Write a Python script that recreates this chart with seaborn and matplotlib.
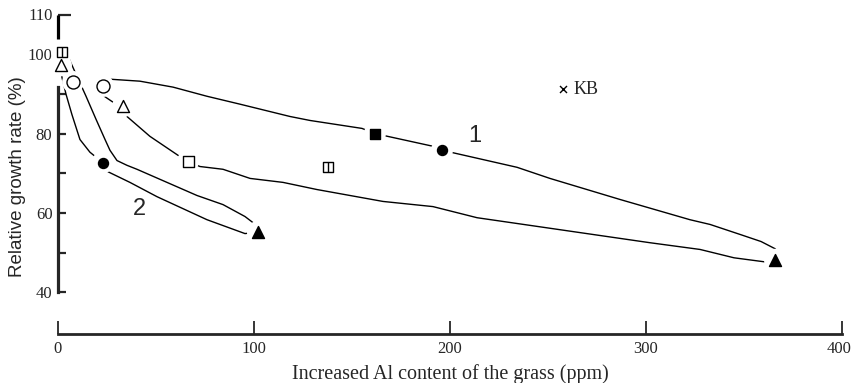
import matplotlib
matplotlib.use("Agg")
import matplotlib.pyplot as plt
import matplotlib.transforms as mtransforms
import numpy as np
import pandas as pd
import seaborn as sns

# ---------------- data ----------------
# Curve 1 (closed hand-drawn envelope)
curve1_x = [23.0, 26.5, 41.8, 58.7, 76.0, 92.9, 118.4, 128.6, 155.1, 161.7, 191.3, 195.9,
            234.2, 251.0, 286.7, 322.4, 332.7, 348.5, 358.7, 365.8, 368.4, 365.8,
            360.2, 344.9, 327.6, 302.0, 213.8, 191.3, 165.8, 132.1, 114.8, 98.0, 84.2,
            72.4, 66.3, 62.2, 46.9, 35.2, 33.2, 28.1, 23.0, 23.0]
curve1_y = [92.0, 93.7, 93.2, 91.7, 89.4, 87.4, 84.3, 83.3, 81.3, 80.0, 76.8, 75.8,
            71.5, 68.7, 63.4, 58.3, 57.1, 54.5, 52.8, 51.0, 49.5, 48.2,
            47.7, 48.7, 50.8, 52.5, 58.8, 61.6, 62.9, 65.9, 67.7, 68.7, 71.0,
            71.7, 73.0, 74.2, 79.3, 84.3, 86.9, 87.9, 89.6, 92.0]

# Curve 2 (closed hand-drawn envelope)
curve2_x = [2.0, 4.6, 9.7, 14.3, 19.4, 24.0, 26.5, 30.1, 35.2, 40.3, 55.6, 70.9, 84.2,
            95.4, 101.5, 102.0, 95.4, 76.0, 50.5, 36.7, 25.0, 22.8, 16.3, 11.2,
            7.1, 4.1, 2.0, 1.5, -1.5, 2.0]
curve2_y = [100.5, 100.0, 94.4, 89.4, 83.6, 78.5, 75.8, 73.2, 72.0, 71.0, 67.7, 64.4, 62.1,
            59.1, 56.8, 55.2, 54.8, 58.3, 64.1, 67.7, 70.5, 72.7, 75.3, 78.5,
            84.8, 89.9, 94.2, 97.2, 98.7, 100.5]

open_circle_x = [7.7, 23.0]
open_circle_y = [93.0, 92.0]
open_triangle_x = [1.5, 33.2]
open_triangle_y = [97.2, 86.9]
open_square_x = [66.3]
open_square_y = [73.0]
split_square_x = [2.0, 137.8]
split_square_y = [100.5, 71.7]
filled_circle_x = [22.8, 195.9]
filled_circle_y = [72.7, 75.8]
filled_square_x = [161.7]
filled_square_y = [80.0]
filled_triangle_x = [102.0, 365.8]
filled_triangle_y = [55.2, 48.2]
kb_x = [257.9]
kb_y = [91.2]

curve_labels = ["1", "2"]
curve_label_x = [212.8, 41.3]
curve_label_y = [79.3, 60.9]

x_ticks = [0, 100, 200, 300, 400]
y_major = [40, 60, 80, 100, 110]
y_minor = [50, 70, 90]

# ---------------- style ----------------
sns.set_style("white")
plt.rcParams["font.family"] = ["Liberation Serif", "DejaVu Serif"]
SANS = ["Liberation Sans", "DejaVu Sans"]

W, H, DPI = 852, 383, 100
fig = plt.figure(figsize=(W / DPI, H / DPI), dpi=DPI)
ax = fig.add_axes([58 / W, 1 - 334 / H, 784 / W, (334 - 14.5) / H])
ax.set_xlim(0, 400)
ax.set_ylim(29.5, 110)

def px2s(d):
    return (d * 72 / DPI) ** 2

LW = 1.0
c1 = pd.DataFrame({"x": curve1_x, "y": curve1_y})
c2 = pd.DataFrame({"x": curve2_x, "y": curve2_y})
sns.lineplot(data=c1, x="x", y="y", sort=False, estimator=None, color="black", lw=LW, ax=ax)
sns.lineplot(data=c2, x="x", y="y", sort=False, estimator=None, color="black", lw=LW, ax=ax)
for ln in ax.lines:
    ln.set_clip_on(False)
    ln.set_zorder(2)

# white halos to break the lines around the markers
halo_x = open_circle_x + open_triangle_x + open_square_x + split_square_x + \
    filled_circle_x + filled_square_x + filled_triangle_x
halo_y = open_circle_y + open_triangle_y + open_square_y + split_square_y + \
    filled_circle_y + filled_square_y + filled_triangle_y
sns.scatterplot(x=halo_x, y=halo_y, s=px2s(22), color="white", edgecolor="none",
                ax=ax, zorder=3, clip_on=False)

def pts(xs, ys, marker, d, filled, lw=1.0):
    sns.scatterplot(x=xs, y=ys, marker=marker, s=px2s(d),
                    facecolor="black" if filled else "white",
                    edgecolor="black", linewidth=lw, ax=ax, zorder=4, clip_on=False)

pts(open_circle_x, open_circle_y, "o", 13, False)
pts(open_triangle_x, open_triangle_y, "^", 12, False)
pts(open_square_x, open_square_y, "s", 11, False)
pts(split_square_x, split_square_y, "s", 10, False)
sns.scatterplot(x=split_square_x, y=split_square_y, marker="|", s=px2s(10), color="black",
                linewidth=1.0, ax=ax, zorder=5, clip_on=False)
pts(filled_circle_x, filled_circle_y, "o", 10, True)
pts(filled_square_x, filled_square_y, "s", 10, True)
pts(filled_triangle_x, filled_triangle_y, "^", 12, True)
sns.scatterplot(x=kb_x, y=kb_y, marker="x", s=px2s(7), color="black", linewidth=1.0,
                ax=ax, zorder=5, clip_on=False)
ax.text(kb_x[0] + 4.9, kb_y[0], "KB", fontsize=13, ha="left", va="center")

for lab, lx, ly in zip(curve_labels, curve_label_x, curve_label_y):
    ax.text(lx, ly, lab, fontsize=17, family=SANS, ha="center", va="center")

# ---------------- axes ----------------
for s in ["top", "right"]:
    ax.spines[s].set_visible(False)
ax.spines["left"].set_linewidth(2.3)
ax.spines["left"].set_bounds(40, 91.7)
ax.spines["bottom"].set_linewidth(2.0)
ax.plot([0, 0], [103.8, 110], color="black", lw=2.3, clip_on=False,
        solid_capstyle="butt", zorder=6)

ax.set_xticks(x_ticks)
ax.set_xticklabels([str(t) for t in x_ticks])
ax.tick_params(axis="x", direction="in", length=9.5, width=1.3, pad=5, labelsize=12,
               bottom=True)
ax.set_yticks(y_major)
ax.set_yticklabels([str(t) for t in y_major])
ax.set_yticks(y_minor, minor=True)
ax.tick_params(axis="y", which="both", direction="in", length=6, width=1.6, pad=4,
               labelsize=12, left=True)
for t, v in zip(ax.yaxis.get_major_ticks(), y_major):
    if v == 100:
        t.tick1line.set_visible(False)
    if v == 110:
        t.tick1line.set_markersize(9.5)
last = ax.xaxis.get_major_ticks()[-1]
last.label1.set_transform(last.label1.get_transform() +
                          mtransforms.ScaledTranslation(-2 / 72, 0, fig.dpi_scale_trans))
ax.grid(False)
ax.set_xlabel("")
ax.set_ylabel("")

fig.text(450 / W, 1 - 374 / H, "Increased Al content of the grass (ppm)",
         fontsize=14.5, ha="center", va="center")
fig.text(18 / W, 1 - 177 / H, "Relative growth rate (%)", fontsize=13.5, family=SANS,
         rotation=90, ha="center", va="center")

fig.savefig("out.png", dpi=DPI)
